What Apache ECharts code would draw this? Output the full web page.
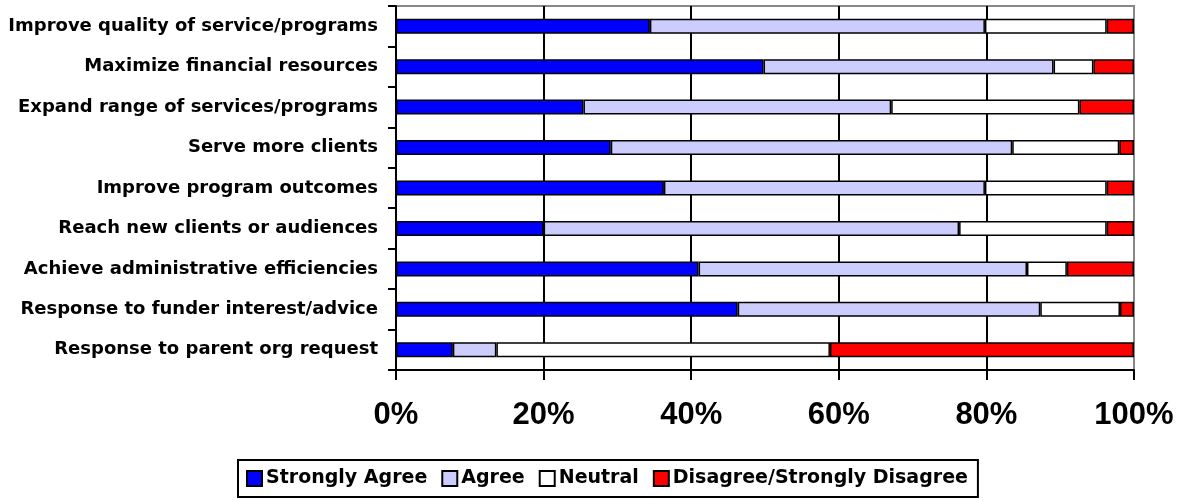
<!DOCTYPE html>
<html>
<head>
<meta charset="utf-8">
<script src="https://cdn.jsdelivr.net/npm/echarts@6/dist/echarts.min.js"></script>
<style>
  html, body { margin: 0; padding: 0; background: #fff; }
  #chart { width: 1182px; height: 501px; }
</style>
</head>
<body>
<div id="chart"></div>
<script>
// ---- data ----
var categories = [
  'Improve quality of service/programs',
  'Maximize financial resources',
  'Expand range of services/programs',
  'Serve more clients',
  'Improve program outcomes',
  'Reach new clients or audiences',
  'Achieve administrative efficiencies',
  'Response to funder interest/advice',
  'Response to parent org request'
];
var stronglyAgree = [34.4, 49.8, 25.4, 29.1, 36.3, 20.0, 41.0, 46.3, 7.7];
var agree         = [45.4, 39.3, 41.7, 54.4, 43.5, 56.3, 44.5, 41.0, 5.9];
var neutral       = [16.5, 5.4, 25.5, 14.5, 16.5, 20.0, 5.4, 10.8, 45.2];
var disagree      = [3.7, 5.5, 7.4, 2.0, 3.7, 3.7, 9.1, 1.9, 41.2];
var xTicks = [0, 20, 40, 60, 80, 100];

var FONT = '"Liberation Sans", Arial, sans-serif';
var WIDE = '"DejaVu Sans", sans-serif';

function barSeries(name, values, color) {
  return {
    name: name, type: 'bar', stack: 'total', data: values,
    barWidth: 15,
    itemStyle: { color: color, borderColor: '#000', borderWidth: 1.5 },
    emphasis: { disabled: true }
  };
}

var chart = echarts.init(document.getElementById('chart'));
chart.setOption({
  animation: false,
  backgroundColor: '#fff',
  textStyle: { fontFamily: FONT },
  grid: {
    left: 396, right: 48, top: 6, bottom: 131,
    show: true, borderColor: '#888', borderWidth: 2
  },
  legend: {
    left: 238, top: 460,
    borderColor: '#000', borderWidth: 2,
    padding: [9, 10, 9, 8],
    itemWidth: 15, itemHeight: 15, itemGap: 14,
    icon: 'rect',
    textStyle: { fontFamily: WIDE, fontSize: 19, fontWeight: 'bold', color: '#000', padding: [0, 0, 0, -1] },
    data: ['Strongly Agree', 'Agree', 'Neutral', 'Disagree/Strongly Disagree']
  },
  xAxis: {
    type: 'value', min: 0, max: 100, interval: 20,
    axisLine: { show: true, lineStyle: { color: '#000', width: 2 } },
    axisTick: { show: true, length: 10, lineStyle: { color: '#000', width: 2 } },
    axisLabel: {
      margin: 30, fontSize: 31, fontWeight: 'bold', color: '#000', fontFamily: FONT,
      formatter: function (v) { return xTicks.indexOf(v) >= 0 ? v + '%' : ''; }
    },
    splitLine: { show: true, showMinLine: false, showMaxLine: false, lineStyle: { color: '#000', width: 2 } }
  },
  yAxis: {
    type: 'category', data: categories, inverse: true,
    axisLine: { show: true, lineStyle: { color: '#000', width: 2 } },
    axisTick: { show: true, length: 8, lineStyle: { color: '#000', width: 2 } },
    axisLabel: { margin: 18, fontSize: 18, fontWeight: 'bold', color: '#000', fontFamily: WIDE },
    splitLine: { show: false }
  },
  series: [
    barSeries('Strongly Agree', stronglyAgree, '#0000ff'),
    barSeries('Agree', agree, '#ccccff'),
    barSeries('Neutral', neutral, '#ffffff'),
    barSeries('Disagree/Strongly Disagree', disagree, '#ff0000')
  ]
});
</script>
</body>
</html>
